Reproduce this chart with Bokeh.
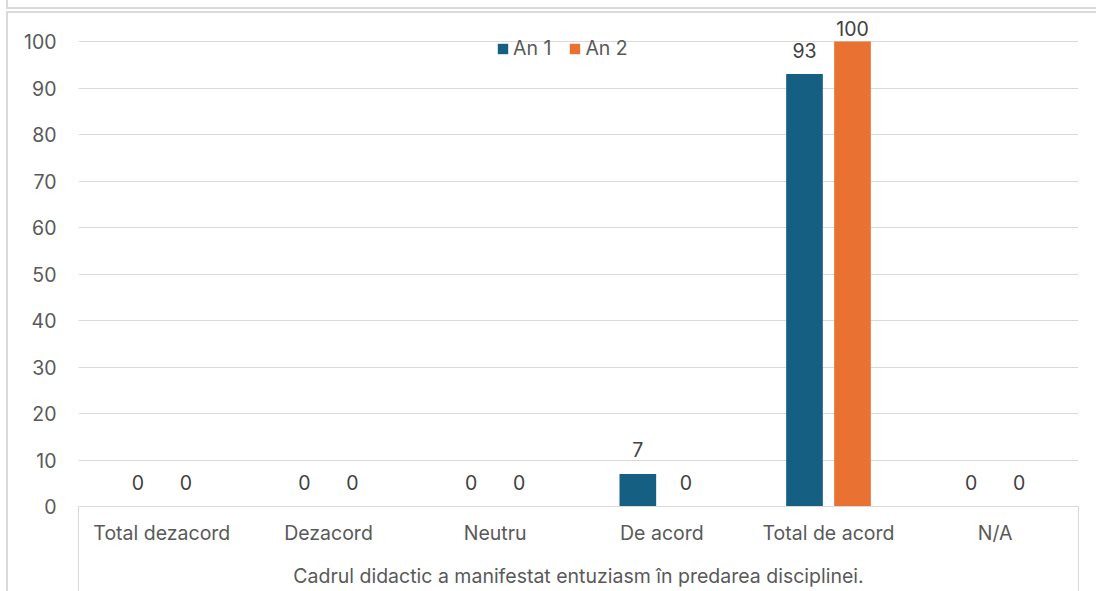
import numpy as np
from bokeh.plotting import figure
from bokeh.models import ColumnDataSource, Range1d, FixedTicker, Legend, LegendItem, InlineStyleSheet
from bokeh.embed import file_html
from bokeh.resources import INLINE
from bokeh.core.properties import value
from bokeh.transform import dodge

# ---- data ----
categories = ["Total dezacord", "Dezacord", "Neutru", "De acord", "Total de acord", "N/A"]
an1 = [0, 0, 0, 7, 93, 0]
an2 = [0, 0, 0, 0, 100, 0]
series_names = ["An 1", "An 2"]
group_label = "Cadrul didactic a manifestat entuziasm în predarea disciplinei."
y_ticks = [0, 10, 20, 30, 40, 50, 60, 70, 80, 90, 100]

# ---- style ----
FONT = "Inter"
FS = "19.5px"
BLUE = "#156082"
ORANGE = "#E97132"
GRID = "#d9d9d9"
AXIS_TXT = "#595959"
LBL_TXT = "#404040"
OFF = 0.144
BW = 0.22

xc = np.arange(len(categories)) + 0.5
src = ColumnDataSource(dict(
    x=xc,
    an1=an1, an2=an2,
    an1_lbl=[str(v) for v in an1], an2_lbl=[str(v) for v in an2],
    an1_ly=np.minimum(an1, 97.6), an2_ly=np.minimum(an2, 97.6),
))

p = figure(width=1096, height=591,
           x_range=Range1d(0, len(categories)), y_range=Range1d(0, 106.24),
           output_backend="svg", toolbar_location=None,
           min_border_left=78, min_border_right=18, min_border_top=12, min_border_bottom=85)
p.outline_line_color = None
p.background_fill_color = "white"
p.border_fill_color = "white"

# chart-area border lines (cropped Excel chart frame)
p.stylesheets = [InlineStyleSheet(css="""
:host { position: relative; }
:host::before { content: ''; position: absolute; left: 6px; top: 0px; right: 0px; height: 7px;
  border-left: 2px solid #dadada; border-bottom: 2px solid #dadada; pointer-events: none; z-index: 10; }
:host::after { content: ''; position: absolute; left: 6px; top: 11px; right: 0px; bottom: 0px;
  border-left: 2px solid #dadada; border-top: 2px solid #dadada; pointer-events: none; z-index: 10; }
""")]

# y axis
p.yaxis.ticker = FixedTicker(ticks=y_ticks)
p.yaxis.axis_line_color = None
p.yaxis.major_tick_line_color = None
p.yaxis.minor_tick_line_color = None
p.yaxis.major_label_standoff = 16
p.yaxis.major_label_text_font = FONT
p.yaxis.major_label_text_font_size = FS
p.yaxis.major_label_text_color = AXIS_TXT

p.ygrid.ticker = FixedTicker(ticks=y_ticks)
p.ygrid.grid_line_color = GRID
p.ygrid.grid_line_width = 1
p.xgrid.visible = False

# x axis
p.xaxis.ticker = FixedTicker(ticks=list(xc), minor_ticks=[0, len(categories)])
p.xaxis.major_label_overrides = {float(v): c for v, c in zip(xc, categories)}
p.xaxis.axis_line_color = GRID
p.xaxis.major_tick_line_color = None
p.xaxis.major_tick_in = 0
p.xaxis.major_tick_out = 0
p.xaxis.minor_tick_in = 0
p.xaxis.minor_tick_out = 85
p.xaxis.minor_tick_line_color = GRID
p.xaxis.major_label_standoff = -71
p.xaxis.major_label_text_font = FONT
p.xaxis.major_label_text_font_size = FS
p.xaxis.major_label_text_color = AXIS_TXT
p.xaxis.axis_label = group_label
p.xaxis.axis_label_standoff = 16
p.xaxis.axis_label_text_font = FONT
p.xaxis.axis_label_text_font_size = FS
p.xaxis.axis_label_text_font_style = "normal"
p.xaxis.axis_label_text_color = AXIS_TXT

# bars
r1 = p.vbar(x=dodge("x", -OFF), top="an1", width=BW, source=src,
            fill_color=BLUE, line_color=None)
r2 = p.vbar(x=dodge("x", OFF), top="an2", width=BW, source=src,
            fill_color=ORANGE, line_color=None)

# data labels
for col, off in (("an1", -OFF), ("an2", OFF)):
    p.text(x=dodge("x", off), y=col + "_ly", text=col + "_lbl", source=src,
           text_align="center", text_baseline="middle", y_offset=-24,
           text_font=value(FONT), text_font_size=FS, text_color=LBL_TXT)

legend = Legend(items=[LegendItem(label=series_names[0], renderers=[r1]),
                       LegendItem(label=series_names[1], renderers=[r2])],
                orientation="horizontal", location=(418, 446),
                glyph_width=13, glyph_height=13, label_standoff=4, spacing=17,
                padding=0, margin=0, background_fill_alpha=0, border_line_color=None,
                label_text_font=FONT, label_text_font_size=FS,
                label_text_color=AXIS_TXT)
p.add_layout(legend, "center")

open("out.html", "w").write(file_html(p, INLINE))
